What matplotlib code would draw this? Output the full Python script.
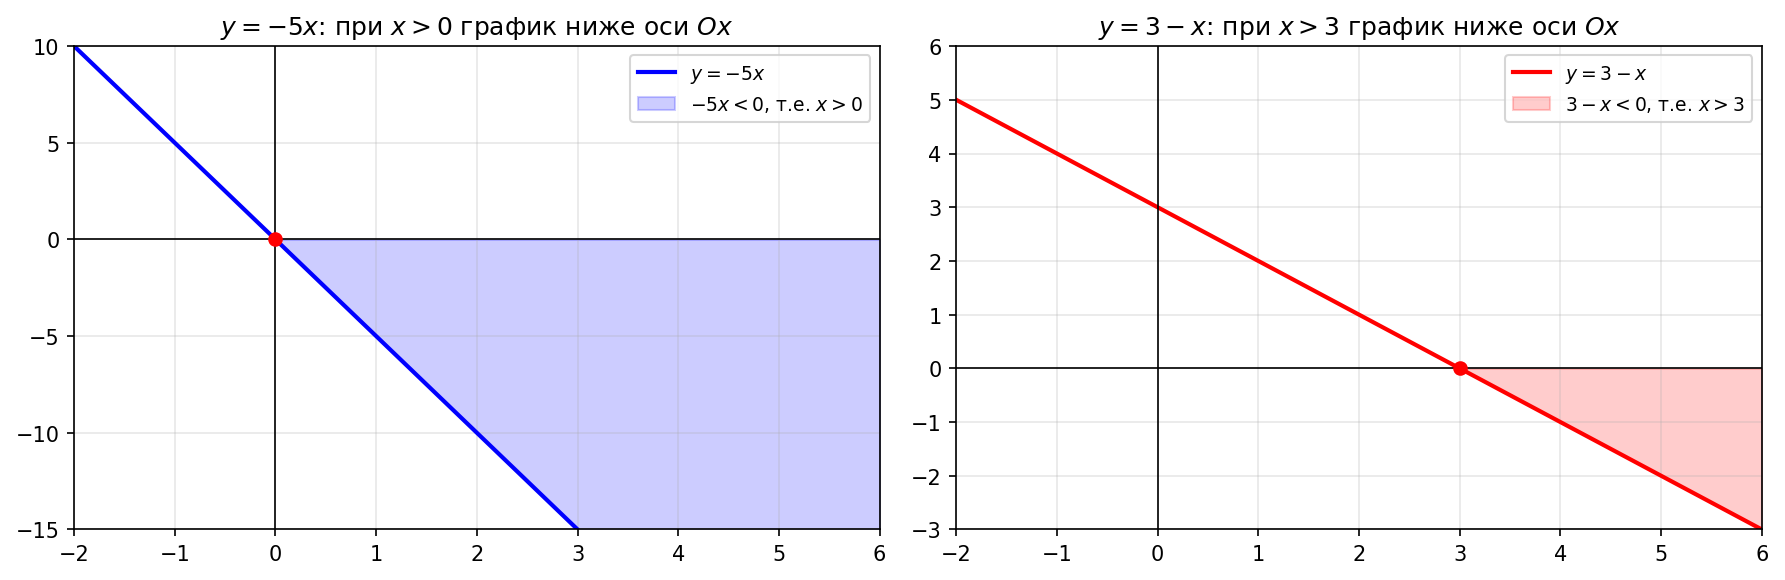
import matplotlib.pyplot as plt
import numpy as np

# line through points (x, y)
x_left = np.array([-2, 0, 3, 6])
y_left = np.array([10, 0, -15, -30])
x_right = np.array([-2, 0, 3, 6])
y_right = np.array([5, 3, 0, -3])

root_left = (0, 0)
root_right = (3, 0)

fig, axes = plt.subplots(1, 2, figsize=(11.9, 3.873), dpi=150)
fig.subplots_adjust(left=0.0415, right=0.987, top=0.919, bottom=0.087, wspace=0.095)

# left: y = -5x
ax = axes[0]
ax.plot(x_left, y_left, color="blue", linewidth=2, label=r"$y=-5x$")
ax.fill_between(x_left, y_left, 0, where=x_left >= 0, color="blue", alpha=0.2,
                label=r"$-5x<0$, т.е. $x>0$")
ax.axhline(0, color="black", linewidth=0.8)
ax.axvline(0, color="black", linewidth=0.8)
ax.plot(*root_left, "o", color="red", markersize=6)
ax.set_xlim(-2, 6)
ax.set_ylim(-15, 10)
ax.grid(True, alpha=0.3)
ax.legend(loc="upper right", fontsize=9)
ax.set_title(r"$y=-5x$: при $x>0$ график ниже оси $Ox$")

# right: y = 3 - x
ax = axes[1]
ax.plot(x_right, y_right, color="red", linewidth=2, label=r"$y=3-x$")
ax.fill_between(x_right, y_right, 0, where=x_right >= 3, color="red", alpha=0.2,
                label=r"$3-x<0$, т.е. $x>3$")
ax.axhline(0, color="black", linewidth=0.8)
ax.axvline(0, color="black", linewidth=0.8)
ax.plot(*root_right, "o", color="red", markersize=6)
ax.set_xlim(-2, 6)
ax.set_ylim(-3, 6)
ax.grid(True, alpha=0.3)
ax.legend(loc="upper right", fontsize=9)
ax.set_title(r"$y=3-x$: при $x>3$ график ниже оси $Ox$")

plt.savefig("out.png", dpi=150)
plt.close()
